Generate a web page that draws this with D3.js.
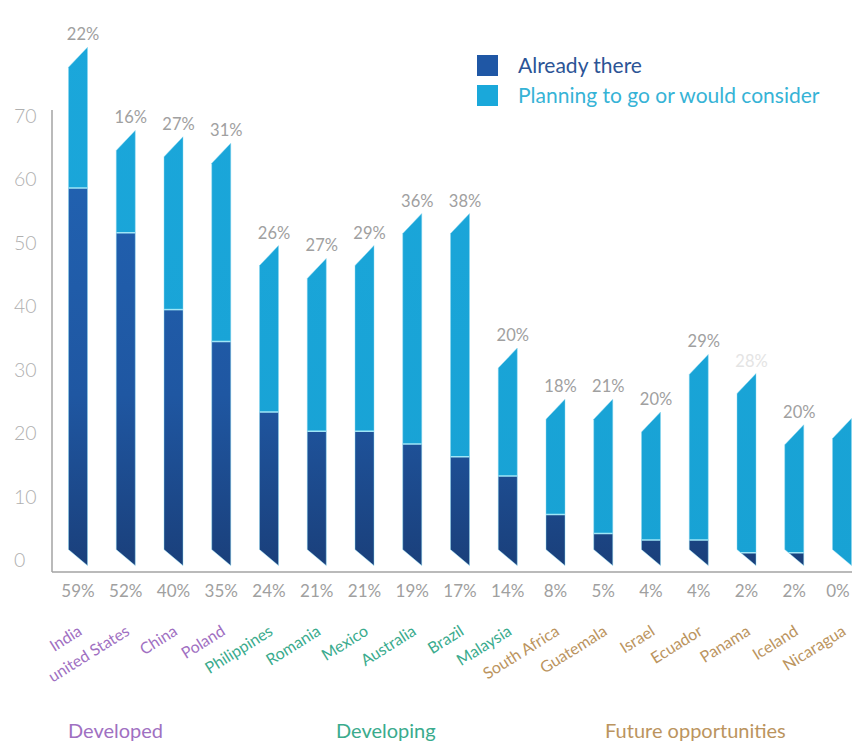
<!DOCTYPE html>
<html>
<head>
<meta charset="utf-8">
<script src="https://cdn.jsdelivr.net/npm/d3@7/dist/d3.min.js"></script>
<style>
  html, body { margin: 0; padding: 0; background: #ffffff; }
  svg { display: block; font-family: Lato, "Open Sans", sans-serif; }
</style>
</head>
<body>
<svg id="chart" width="852" height="744"></svg>
<script>
// Countries, in the order they are ranked
const countries = ["India", "united States", "China", "Poland", "Philippines", "Romania", "Mexico",
  "Australia", "Brazil", "Malaysia", "South Africa", "Guatemala", "Israel", "Ecuador", "Panama",
  "Iceland", "Nicaragua"];
// Share of respondents already operating in the country (%)
const already = [59, 52, 40, 35, 24, 21, 21, 19, 17, 14, 8, 5, 4, 4, 2, 2, 0];
// Share planning to go or that would consider it (%)
const planning = [22, 16, 27, 31, 26, 27, 29, 36, 38, 20, 18, 21, 20, 29, 28, 20, 23];
// Whether the planning share is printed above the bar
const planningShown = [true, true, true, true, true, true, true, true, true, true, true, true, true, true, true, true, false];
// Market group of each country
const groups = ["Developed", "Developed", "Developed", "Developed", "Developing", "Developing", "Developing",
  "Developing", "Developing", "Developing", "Future opportunities", "Future opportunities",
  "Future opportunities", "Future opportunities", "Future opportunities", "Future opportunities",
  "Future opportunities"];
const groupNames = ["Developed", "Developing", "Future opportunities"];
const yTicks = [0, 10, 20, 30, 40, 50, 60, 70];
const seriesNames = ["Already there", "Planning to go or would consider"];

const groupColor = d3.scaleOrdinal()
  .domain(groupNames)
  .range(["#9f70c2", "#3aab8d", "#bb945e"]);

const svg = d3.select("#chart");

const x = d3.scalePoint().domain(countries).range([78, 842]);
const y = d3.scaleLinear().domain([0, 70]).range([565.6, 117.6]);
const barW = 19;
const slantBottom = 16;
const slantTop = 20;
const y0 = y(0);
const W = 852;

// Gradients for the two series
const defs = svg.append("defs");
const gDark = defs.append("linearGradient").attr("id", "gradDark")
  .attr("gradientUnits", "userSpaceOnUse").attr("x1", 0).attr("x2", 0).attr("y1", 180).attr("y2", 570);
gDark.append("stop").attr("offset", "0%").attr("stop-color", "#2161b0");
gDark.append("stop").attr("offset", "55%").attr("stop-color", "#1f57a2");
gDark.append("stop").attr("offset", "100%").attr("stop-color", "#1a3f7a");
const gLight = defs.append("linearGradient").attr("id", "gradLight")
  .attr("gradientUnits", "userSpaceOnUse").attr("x1", 0).attr("x2", 0).attr("y1", 30).attr("y2", 570);
gLight.append("stop").attr("offset", "0%").attr("stop-color", "#1ba7db");
gLight.append("stop").attr("offset", "100%").attr("stop-color", "#18a2d4");

const rows = countries.map((c, i) => ({
  country: c, already: already[i], planning: planning[i], total: already[i] + planning[i],
  shown: planningShown[i], group: groups[i], i
}));

function outline(d) {
  const cx = x(d.country), x0 = cx - barW / 2, x1 = cx + barW / 2;
  const yt = y(d.total);
  return [[x0, y0 - slantBottom], [x1, y0], [x1, yt], [x0, yt + slantTop]];
}

// Clip path giving each bar its slanted ends
defs.selectAll("clipPath.bar").data(rows).join("clipPath")
  .attr("class", "bar")
  .attr("id", d => "clip" + d.i)
  .append("polygon")
  .attr("points", d => outline(d).map(p => p.join(",")).join(" "));

const bars = svg.append("g").attr("class", "bars")
  .selectAll("g").data(rows).join("g")
  .attr("clip-path", d => `url(#clip${d.i})`);

// Planning segment (upper)
bars.append("rect")
  .attr("x", d => x(d.country) - barW / 2 - 1)
  .attr("width", barW + 2)
  .attr("y", d => y(d.total) - 2)
  .attr("height", d => y(d.already) - y(d.total) + 2)
  .attr("fill", "url(#gradLight)");

// Already-there segment (lower)
bars.append("rect")
  .attr("x", d => x(d.country) - barW / 2 - 1)
  .attr("width", barW + 2)
  .attr("y", d => y(d.already))
  .attr("height", d => y0 - y(d.already) + 2)
  .attr("fill", "url(#gradDark)");

// Thin light divider between the segments
bars.filter(d => d.already > 0).append("line")
  .attr("x1", d => x(d.country) - barW / 2 - 1)
  .attr("x2", d => x(d.country) + barW / 2 + 1)
  .attr("y1", d => y(d.already))
  .attr("y2", d => y(d.already))
  .attr("stroke", "#9fe6f7")
  .attr("stroke-width", 1.5);

// Soft edge highlight
svg.append("g").selectAll("polygon").data(rows).join("polygon")
  .attr("points", d => outline(d).map(p => p.join(",")).join(" "))
  .attr("fill", "none")
  .attr("stroke", "#8ad9f2")
  .attr("stroke-opacity", 0.45)
  .attr("stroke-width", 1);

// Axes
const axisG = svg.append("g").attr("class", "axes");
axisG.append("line").attr("x1", 52).attr("x2", 52).attr("y1", 110).attr("y2", 572)
  .attr("stroke", "#a3a3a3").attr("stroke-width", 1.5);
axisG.append("line").attr("x1", 52).attr("x2", W).attr("y1", 572).attr("y2", 572)
  .attr("stroke", "#a3a3a3").attr("stroke-width", 1.5);

// Y tick labels
svg.append("g").selectAll("text").data(yTicks).join("text")
  .attr("x", 14)
  .attr("y", d => y(d) - 5 + d * 0.05)
  .attr("dy", "0.35em")
  .attr("fill", "#b0b0b0")
  .attr("font-size", 19.5)
  .attr("font-weight", 300)
  .text(d => d);

// Planning share above bars
svg.append("g").selectAll("text").data(rows.filter(d => d.shown)).join("text")
  .attr("x", d => x(d.country) + 5)
  .attr("y", d => y(d.total) - 7)
  .attr("text-anchor", "middle")
  .attr("fill", d => d.country === "Panama" ? "#e4e4e4" : "#a0a0a0")
  .attr("font-size", 16.5)
  .text(d => d.planning + "%");

// Already-there share under the axis (the last one is kept inside the frame)
svg.append("g").selectAll("text").data(rows).join("text")
  .attr("x", d => Math.min(x(d.country), W - 14))
  .attr("y", 597)
  .attr("text-anchor", "middle")
  .attr("fill", "#a0a0a0")
  .attr("font-size", 17)
  .text(d => d.already + "%");

// Country names, rotated
svg.append("g").selectAll("text").data(rows).join("text")
  .attr("transform", d => `translate(${x(d.country) + 5},634) rotate(-32)`)
  .attr("text-anchor", "end")
  .attr("fill", d => groupColor(d.group))
  .attr("font-size", 16)
  .text(d => d.country);

// Group names
const groupPos = [68, 336, 605];
svg.append("g").selectAll("text").data(groupNames).join("text")
  .attr("x", (d, i) => groupPos[i])
  .attr("y", 738)
  .attr("fill", d => groupColor(d))
  .attr("font-size", 20)
  .text(d => d);

// Legend
const legendColors = ["#1f57a5", "#1aa8da"];
const legendText = ["#2b5496", "#36b3d6"];
const legend = svg.append("g").selectAll("g").data(seriesNames).join("g")
  .attr("transform", (d, i) => `translate(477,${55 + i * 30})`);
legend.append("rect").attr("width", 21).attr("height", 21).attr("fill", (d, i) => legendColors[i]);
legend.append("text").attr("x", 41).attr("y", 11).attr("dy", "0.35em")
  .attr("font-size", 21).attr("fill", (d, i) => legendText[i]).text(d => d);
</script>
</body>
</html>
